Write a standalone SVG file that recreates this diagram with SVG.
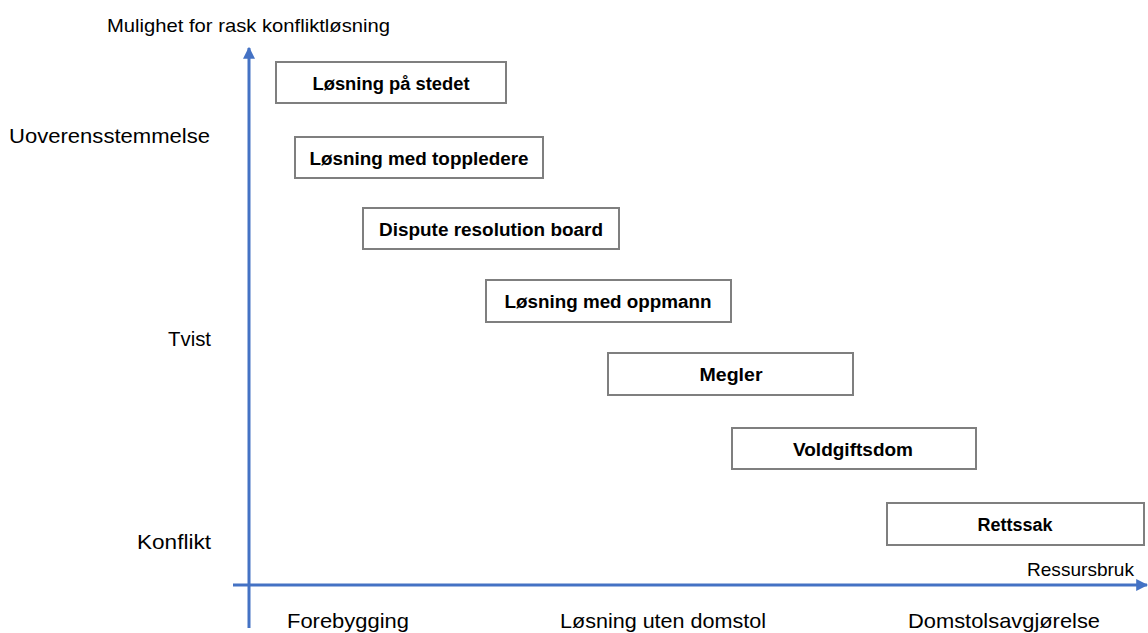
<svg xmlns="http://www.w3.org/2000/svg" width="1148" height="633" viewBox="0 0 1148 633">
<style>
.box{fill:#fff;stroke:#7f7f7f;stroke-width:2}
.bt{font-family:"Liberation Sans",Arial,sans-serif;font-weight:bold;font-size:18px;fill:#000;text-anchor:middle}
.lbl{font-family:"Liberation Sans",Arial,sans-serif;font-size:21px;fill:#000}
.sm{font-family:"Liberation Sans",Arial,sans-serif;font-size:19px;fill:#000}
.ax{stroke:#4472c4;stroke-width:3;fill:none}
</style>
<defs>
<marker id="ah" viewBox="0 0 10 10" refX="9" refY="5" markerWidth="4" markerHeight="4" orient="auto" markerUnits="strokeWidth">
<path d="M0,0 L10,5 L0,10 z" fill="#4472c4"/>
</marker>
</defs>
<g id="connectors">
<line class="ax" x1="249" y1="628" x2="249" y2="48" marker-end="url(#ah)"/>
<line class="ax" x1="233" y1="585" x2="1147" y2="585" marker-end="url(#ah)"/>
</g>
<g id="labels">
<text class="sm" x="107" y="32" textLength="283" lengthAdjust="spacingAndGlyphs">Mulighet for rask konfliktløsning</text>
<text class="lbl" x="9" y="143" textLength="201" lengthAdjust="spacingAndGlyphs">Uoverensstemmelse</text>
<text class="lbl" x="168" y="346" textLength="43" lengthAdjust="spacingAndGlyphs">Tvist</text>
<text class="lbl" x="137" y="549" textLength="74" lengthAdjust="spacingAndGlyphs">Konflikt</text>
<text class="sm" x="1027" y="576" textLength="107" lengthAdjust="spacingAndGlyphs">Ressursbruk</text>
<text class="lbl" x="287" y="628" textLength="122" lengthAdjust="spacingAndGlyphs">Forebygging</text>
<text class="lbl" x="560" y="628" textLength="206" lengthAdjust="spacingAndGlyphs">Løsning uten domstol</text>
<text class="lbl" x="908" y="628" textLength="192" lengthAdjust="spacingAndGlyphs">Domstolsavgjørelse</text>
</g>
<g id="n1"><rect class="box" x="276" y="62" width="230" height="41"/><text class="bt" x="391" y="90" textLength="157" lengthAdjust="spacingAndGlyphs">Løsning på stedet</text></g>
<g id="n2"><rect class="box" x="295" y="137" width="248" height="41"/><text class="bt" x="419" y="165" textLength="219" lengthAdjust="spacingAndGlyphs">Løsning med toppledere</text></g>
<g id="n3"><rect class="box" x="363" y="208" width="256" height="41"/><text class="bt" x="491" y="236" textLength="224" lengthAdjust="spacingAndGlyphs">Dispute resolution board</text></g>
<g id="n4"><rect class="box" x="486" y="280" width="245" height="42"/><text class="bt" x="608" y="308" textLength="207" lengthAdjust="spacingAndGlyphs">Løsning med oppmann</text></g>
<g id="n5"><rect class="box" x="608" y="353" width="245" height="42"/><text class="bt" x="731" y="381" textLength="63" lengthAdjust="spacingAndGlyphs">Megler</text></g>
<g id="n6"><rect class="box" x="732" y="428" width="244" height="41"/><text class="bt" x="853" y="456" textLength="120" lengthAdjust="spacingAndGlyphs">Voldgiftsdom</text></g>
<g id="n7"><rect class="box" x="887" y="503" width="257" height="42"/><text class="bt" x="1015" y="531" textLength="75" lengthAdjust="spacingAndGlyphs">Rettssak</text></g>
</svg>
